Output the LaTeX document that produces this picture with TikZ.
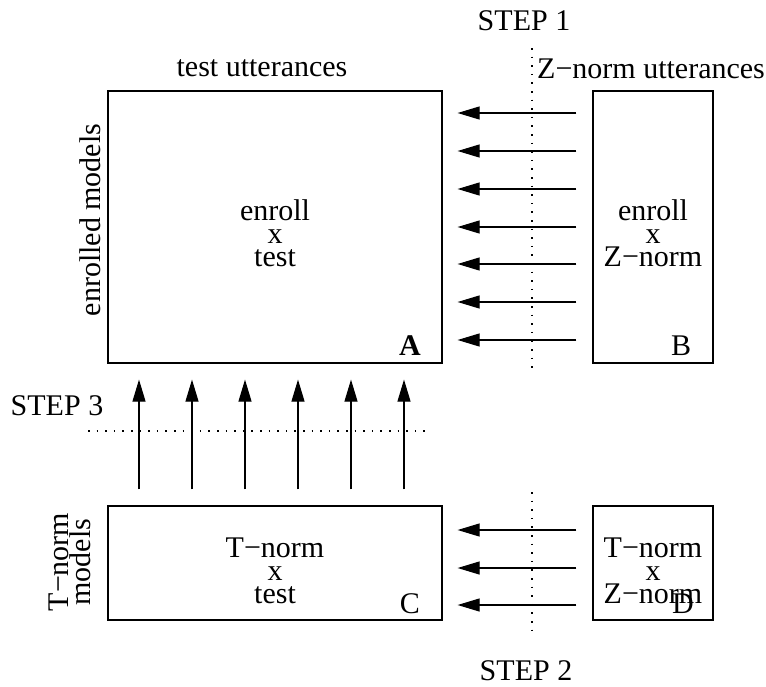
\documentclass[tikz,border=0pt]{standalone}
\usepackage{fontspec}
\setmainfont{Liberation Serif}
\usetikzlibrary{arrows.meta,calc}
\begin{document}
\begin{tikzpicture}[x=1pt,y=-1pt,
  box/.style={draw, line width=1.2pt, inner sep=0pt},
  txt/.style={font=\fontsize{30}{23}\selectfont, inner sep=0pt, align=center},
  arr/.style={line width=1.1pt, -{Triangle[length=22pt,width=13pt]}},
  dotline/.style={line width=1.3pt, dash pattern=on 1.6pt off 7pt}]
\useasboundingbox (0,0) rectangle (766,686);
% boxes
\node[box, minimum width=334pt, minimum height=272pt] (A) at (275,227) {};
\node[box, minimum width=120pt, minimum height=272pt] (B) at (653,227) {};
\node[box, minimum width=334pt, minimum height=114pt] (C) at (275,563) {};
\node[box, minimum width=120pt, minimum height=114pt] (D) at (653,563) {};
% box contents
\node[txt] (At) at ($(A.center)+(0,6)$) {enroll\\x\\test};
\node[txt] (Bt) at ($(B.center)+(0,6)$) {enroll\\x\\Z−norm};
\node[txt] (Ct) at ($(C.center)+(0,8)$) {T−norm\\x\\test};
\node[txt] (Dt) at ($(D.center)+(0,8)$) {T−norm\\x\\Z−norm};
\node[txt, anchor=base, font=\fontsize{30}{23}\selectfont\bfseries] (Al) at (410,355) {A};
\node[txt, anchor=base] (Bl) at (681,355) {B};
\node[txt, anchor=base] (Cl) at (410,613) {C};
\node[txt, anchor=base] (Dl) at (683,613) {D};
% outer labels
\node[txt, anchor=base] (tu) at (262,76) {test utterances};
\node[txt, anchor=base west] (zu) at (537,78) {Z−norm utterances};
\node[txt, anchor=base] (s1) at (524,30) {STEP 1};
\node[txt, anchor=base] (s2) at (526,680) {STEP 2};
\node[txt, anchor=base] (s3) at (57,415) {STEP 3};
\node[txt, rotate=90] (em) at (90,220) {enrolled models};
\node[txt, rotate=90, font=\fontsize{30}{20}\selectfont] (tm) at (70,562) {T−norm\\models};
% dotted lines
\coordinate (d1a) at (532,48);
\coordinate (d1b) at (532,368);
\coordinate (d2a) at (532,492);
\coordinate (d2b) at (532,638);
\coordinate (d3a) at (88,431);
\coordinate (d3b) at (426,431);
\draw[dotline] (d1a) -- (d1b);
\draw[dotline] (d2a) -- (d2b);
\draw[dotline] (d3a) -- (d3b);
% arrows B -> A
\foreach \y in {113,151,189,227,264,302,340}
  \draw[arr, shorten <=16pt, shorten >=15pt] (B.west |- 0,\y) -- (A.east |- 0,\y);
% arrows D -> C
\foreach \y in {530,568,605}
  \draw[arr, shorten <=16pt, shorten >=15pt] (D.west |- 0,\y) -- (C.east |- 0,\y);
% arrows C -> A
\foreach \x in {139,192,245,298,351,404}
  \draw[arr, shorten <=16pt, shorten >=16pt] (C.north -| \x,0) -- (A.south -| \x,0);
\end{tikzpicture}
\end{document}
